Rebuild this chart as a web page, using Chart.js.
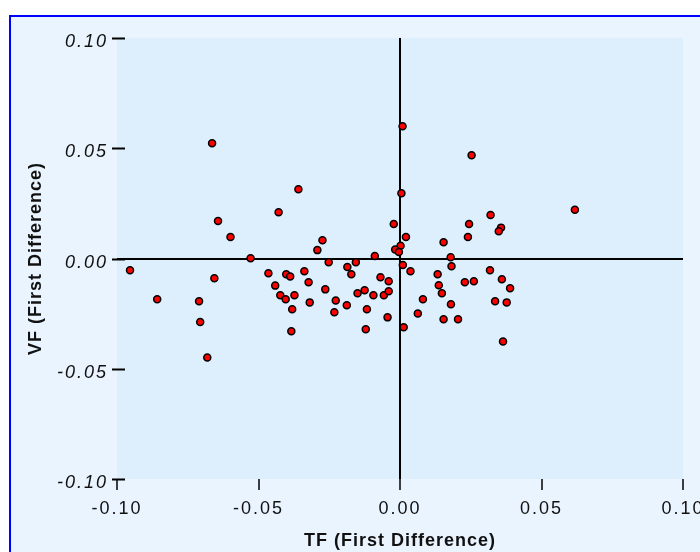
<!DOCTYPE html>
<html><head><meta charset="utf-8">
<script src="https://cdn.jsdelivr.net/npm/chart.js@4"></script>
<style>html,body{margin:0;padding:0;background:#fff}canvas{display:block}</style>
</head><body>
<canvas id="c" width="700" height="552"></canvas>
<script>
const tfValues = [
  -0.0954, -0.0858, -0.0664, -0.0359, 0.0009, 0.0253, 0.0005, -0.0429, -0.0643, -0.0599,
  -0.0528, -0.0465, -0.0656, -0.0402, -0.0388, -0.0441, -0.0423, -0.0404, -0.0373, -0.0710,
  -0.0381, -0.0706, -0.0384, -0.0681, -0.0022, 0.0021, 0.0154, -0.0274, -0.0292, 0.0002,
  -0.0017, -0.0004, -0.0089, -0.0252, -0.0156, -0.0186, -0.0172, 0.0010, 0.0037, 0.0133,
  -0.0338, -0.0323, -0.0264, -0.0069, -0.0040, -0.0125, -0.0150, -0.0094, -0.0057, -0.0040,
  -0.0319, -0.0227, -0.0188, -0.0232, -0.0117, -0.0044, 0.0137, 0.0148, 0.0081, 0.0063,
  0.0154, 0.0013, -0.0121, 0.0618, 0.0320, 0.0244, 0.0357, 0.0349, 0.0240, 0.0179,
  0.0182, 0.0318, 0.0229, 0.0261, 0.0360, 0.0389, 0.0336, 0.0377, 0.0180, 0.0205, 0.0364
];
const vfValues = [
  -0.0053, -0.0185, 0.0523, 0.0314, 0.0600, 0.0468, 0.0296, 0.0210, 0.0170, 0.0097,
  0.0001, -0.0067, -0.0090, -0.0071, -0.0082, -0.0123, -0.0167, -0.0185, -0.0167, -0.0194,
  -0.0230, -0.0288, -0.0330, -0.0449, 0.0156, 0.0097, 0.0074, 0.0083, 0.0038, 0.0058,
  0.0041, 0.0029, 0.0011, -0.0017, -0.0017, -0.0039, -0.0071, -0.0029, -0.0058, -0.0071,
  -0.0058, -0.0108, -0.0140, -0.0085, -0.0103, -0.0144, -0.0158, -0.0167, -0.0167, -0.0149,
  -0.0199, -0.0190, -0.0212, -0.0244, -0.0230, -0.0267, -0.0121, -0.0158, -0.0185, -0.0249,
  -0.0276, -0.0312, -0.0321, 0.0221, 0.0197, 0.0156, 0.0140, 0.0124, 0.0097, 0.0006,
  -0.0035, -0.0053, -0.0108, -0.0103, -0.0094, -0.0135, -0.0194, -0.0199, -0.0208, -0.0276, -0.0376
];
const axisMin = -0.10;
const axisMax = 0.10;
const tickStep = 0.05;
const xTitle = 'TF (First Difference)';
const yTitle = 'VF (First Difference)';

const points = tfValues.map((x, i) => ({ x: x, y: vfValues[i] }));

const framePlugin = {
  id: 'frame',
  beforeDraw(chart) {
    const ctx = chart.ctx, a = chart.chartArea;
    ctx.save();
    ctx.fillStyle = '#ffffff';
    ctx.fillRect(0, 0, chart.width, chart.height);
    ctx.fillStyle = '#EAF4FE';
    ctx.fillRect(10, 16, chart.width, chart.height);
    ctx.strokeStyle = '#0000FF';
    ctx.lineWidth = 2;
    ctx.beginPath();
    ctx.moveTo(10, chart.height + 5);
    ctx.lineTo(10, 16);
    ctx.lineTo(chart.width + 5, 16);
    ctx.stroke();
    ctx.fillStyle = '#DDEEFD';
    ctx.fillRect(a.left, a.top, a.right - a.left, a.bottom - a.top);
    ctx.restore();
    ctx.letterSpacing = '1px';
  },
  beforeDatasetsDraw(chart) {
    const ctx = chart.ctx, a = chart.chartArea, ys = chart.scales.y;
    ctx.save();
    ctx.strokeStyle = '#000';
    ctx.lineWidth = 2;
    ys.ticks.forEach(t => {
      const py = Math.round(ys.getPixelForValue(t.value)) + 0.5;
      ctx.beginPath();
      ctx.moveTo(a.left - 5, py);
      ctx.lineTo(a.left + 8, py);
      ctx.stroke();
    });
    ctx.restore();
  },
  afterDatasetsDraw(chart) {
    chart.ctx.letterSpacing = '2px';
  }
};

function fmt(v) { return Number(v).toFixed(2); }

new Chart(document.getElementById('c'), {
  type: 'scatter',
  data: {
    datasets: [{
      data: points,
      backgroundColor: '#FF0000',
      borderColor: '#000000',
      borderWidth: 1.5,
      pointRadius: 3.5,
      pointHoverRadius: 3.5
    }]
  },
  options: {
    responsive: false,
    animation: false,
    devicePixelRatio: 1,
    layout: { padding: { left: 0, right: 17, top: 38, bottom: 0 } },
    plugins: { legend: { display: false }, tooltip: { enabled: false } },
    scales: {
      x: {
        type: 'linear',
        min: axisMin, max: axisMax,
        border: { display: false },
        grid: {
          color: c => (c.tick && Math.abs(c.tick.value) < 1e-9) ? '#000' : 'rgba(0,0,0,0)',
          lineWidth: 2,
          drawTicks: true,
          tickLength: 11,
          tickColor: '#000',
          tickWidth: 1.5
        },
        ticks: {
          z: 1,
          stepSize: tickStep,
          padding: 8,
          color: '#111',
          font: { family: 'Liberation Sans, Arial, sans-serif', size: 18 },
          callback: v => fmt(v),
          maxRotation: 0
        },
        title: {
          display: true, text: xTitle, color: '#111',
          font: { family: 'Liberation Sans, Arial, sans-serif', size: 18, weight: 'bold' },
          padding: { top: 0, bottom: 0 }
        },
        afterFit(s) { s.height = 73; s.paddingLeft = 0; s.paddingRight = 0; s.paddingTop = 0; s.paddingBottom = 0; }
      },
      y: {
        type: 'linear',
        min: axisMin, max: axisMax,
        border: { display: false },
        grid: {
          color: c => (c.tick && Math.abs(c.tick.value) < 1e-9) ? '#000' : 'rgba(0,0,0,0)',
          lineWidth: 2,
          drawTicks: false
        },
        ticks: {
          z: 1,
          stepSize: tickStep,
          padding: 9,
          labelOffset: 4,
          color: '#111',
          font: { family: 'Liberation Sans, Arial, sans-serif', size: 18, style: 'italic' },
          callback: v => fmt(v)
        },
        title: {
          display: true, text: yTitle, color: '#111',
          font: { family: 'Liberation Sans, Arial, sans-serif', size: 18, weight: 'bold' },
          padding: { top: 25, bottom: 0 }
        },
        afterFit(s) { s.width = 117; s.paddingLeft = 0; s.paddingRight = 0; s.paddingTop = 0; s.paddingBottom = 0; }
      }
    }
  },
  plugins: [framePlugin]
});
</script>
</body></html>
